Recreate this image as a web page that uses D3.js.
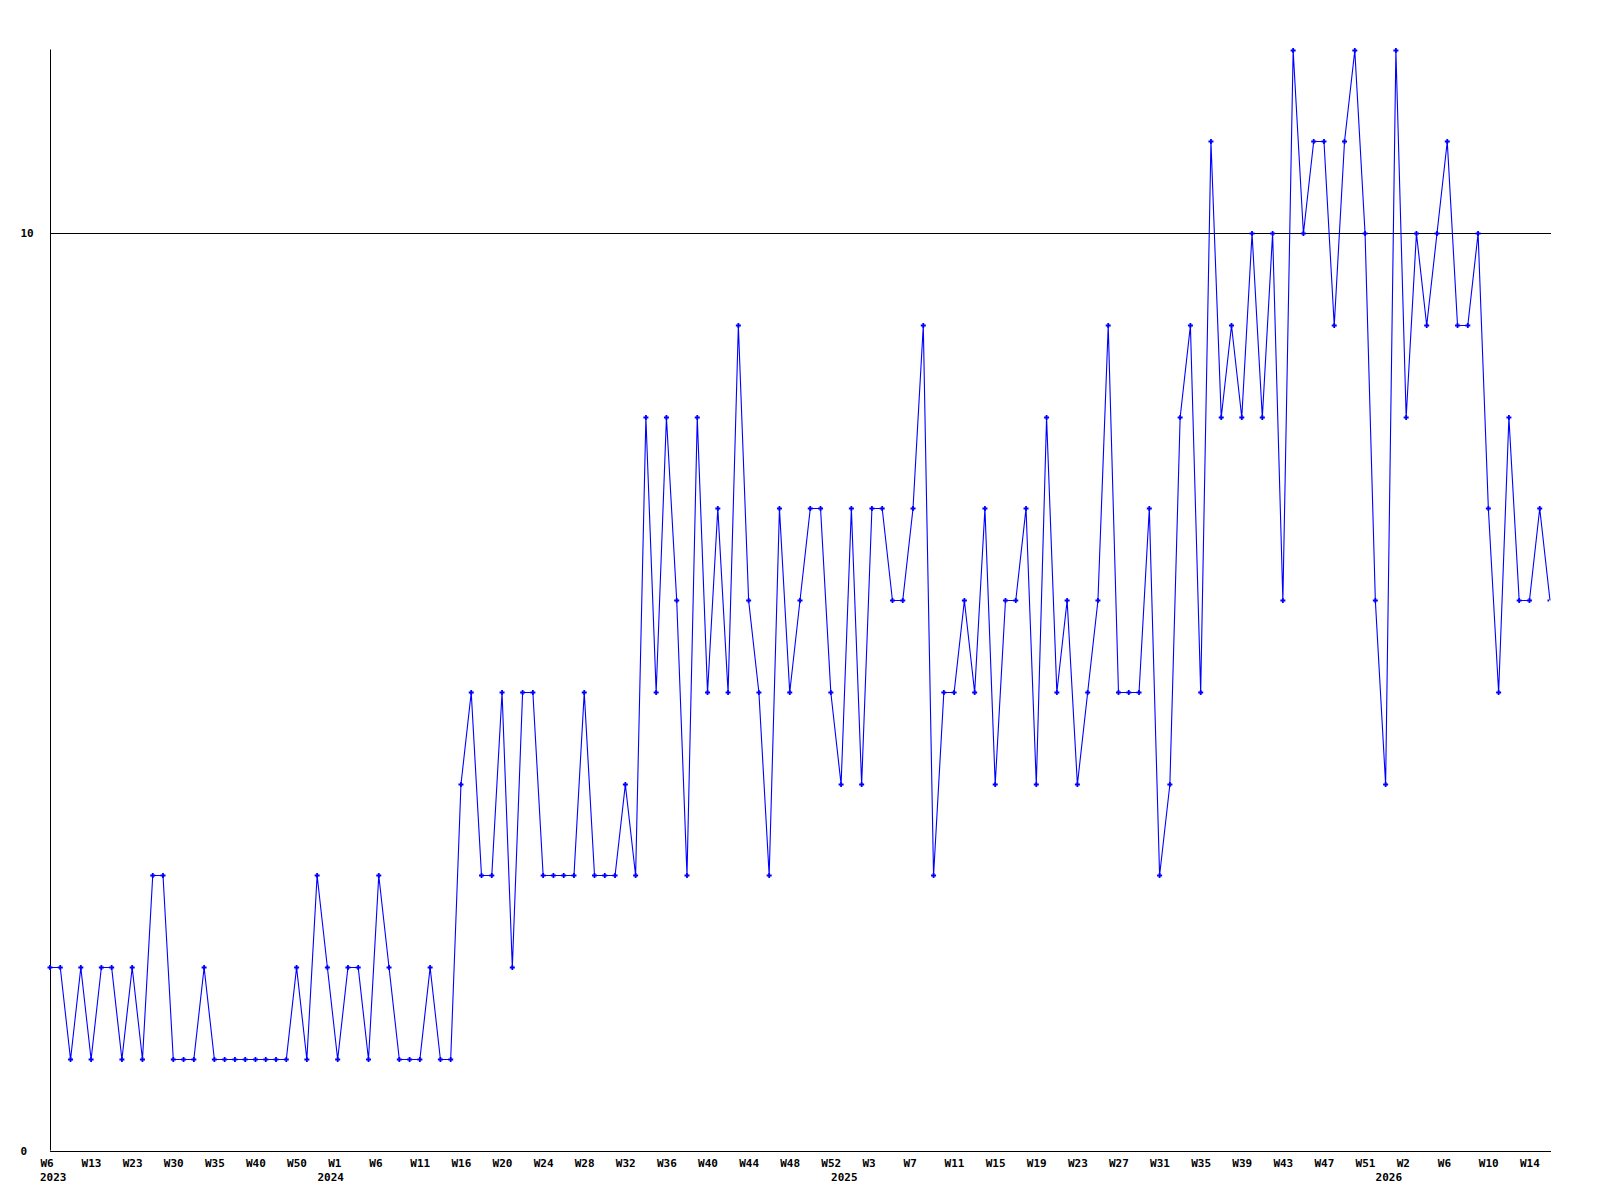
<!DOCTYPE html>
<html>
<head>
<meta charset="utf-8">
<script src="https://cdn.jsdelivr.net/npm/d3@7"></script>
<style>
  html, body { margin: 0; padding: 0; background: #fff; }
  svg text { font-family: "DejaVu Sans Mono", "Liberation Mono", monospace; font-weight: bold; font-size: 11px; fill: #000; }
</style>
</head>
<body>
<div id="chart"></div>
<script>
// weekly counts, one per plotted week
const values = [
  2, 2, 1, 2, 1, 2, 2, 1, 2, 1, 3, 3, 1, 1, 1, 2, 1, 1, 1, 1,
  1, 1, 1, 1, 2, 1, 3, 2, 1, 2, 2, 1, 3, 2, 1, 1, 1, 2, 1, 1,
  4, 5, 3, 3, 5, 2, 5, 5, 3, 3, 3, 3, 5, 3, 3, 3, 4, 3, 8, 5,
  8, 6, 3, 8, 5, 7, 5, 9, 6, 5, 3, 7, 5, 6, 7, 7, 5, 4, 7, 4,
  7, 7, 6, 6, 7, 9, 3, 5, 5, 6, 5, 7, 4, 6, 6, 7, 4, 8, 5, 6,
  4, 5, 6, 9, 5, 5, 5, 7, 3, 4, 8, 9, 5, 11, 8, 9, 8, 10, 8, 10,
  6, 12, 10, 11, 11, 9, 11, 12, 10, 6, 4, 12, 8, 10, 9, 10, 11, 9, 9, 10,
  7, 5, 8, 6, 6, 7, 6
];

// week labels, every 4th point
const weekLabels = [
  "W6", "W13", "W23", "W30", "W35", "W40", "W50",
  "W1", "W6", "W11", "W16", "W20", "W24", "W28", "W32", "W36", "W40", "W44", "W48", "W52",
  "W3", "W7", "W11", "W15", "W19", "W23", "W27", "W31", "W35", "W39", "W43", "W47", "W51",
  "W2", "W6", "W10", "W14"
];
const weekLabelIdx = weekLabels.map((d, i) => i * 4);

// year labels and the point where each year starts
const yearLabels = ["2023", "2024", "2025", "2026"];
const yearLabelIdx = [0, 27, 77, 130];

const yTicks = [0, 10];

const width = 1600, height = 1200;
const margin = {top: 49.5, right: 50, bottom: 49.5, left: 50};

const svg = d3.select("#chart").append("svg")
  .attr("width", width)
  .attr("height", height);

const x = d3.scaleLinear()
  .domain([0, values.length - 1])
  .range([margin.left, width - margin.right]);

const y = d3.scaleLinear()
  .domain([0, 12])
  .range([height - margin.bottom, margin.top]);

svg.append("clipPath")
  .attr("id", "plot")
  .append("rect")
  .attr("x", x(0) - 3)
  .attr("y", 0)
  .attr("width", x(values.length - 1) - x(0) + 2)
  .attr("height", height);

// horizontal line at 10
svg.append("g")
  .selectAll("line")
  .data(yTicks.filter(d => d > 0))
  .enter().append("line")
  .attr("x1", x(0))
  .attr("x2", x(values.length - 1) + 1)
  .attr("y1", d => Math.round(y(d)) + 0.5)
  .attr("y2", d => Math.round(y(d)) + 0.5)
  .attr("stroke", "#000")
  .attr("stroke-width", 1);

// y axis
const yAxis = svg.append("g")
  .attr("transform", `translate(${x(0) + 0.5},0)`)
  .call(d3.axisLeft(y).tickValues(yTicks).tickSize(0).tickPadding(0).tickFormat(d3.format("d")));
yAxis.select(".domain").attr("stroke", "#000").attr("d", `M0,${y(12)}V${y(0)}`);
yAxis.selectAll("text")
  .attr("text-anchor", "start")
  .attr("x", 20 - x(0))
  .attr("dy", "0.32em")
  .style("font", null);

// x axis, week labels
const xAxis = svg.append("g")
  .attr("transform", `translate(0,${Math.round(y(0)) + 0.5})`)
  .call(d3.axisBottom(x).tickValues(weekLabelIdx).tickSize(0).tickPadding(0)
    .tickFormat((d, i) => weekLabels[i]));
xAxis.select(".domain").attr("stroke", "#000").attr("d", `M${x(0)},0H${x(values.length - 1) + 1}`);
xAxis.selectAll("text")
  .attr("text-anchor", "start")
  .attr("x", -10)
  .attr("y", 15.5)
  .attr("dy", null)
  .style("font", null);

// year labels
svg.append("g")
  .selectAll("text")
  .data(yearLabels)
  .enter().append("text")
  .attr("x", (d, i) => x(yearLabelIdx[i]) - 10)
  .attr("y", Math.round(y(0)) + 30)
  .text(d => d);

// the series
const line = d3.line()
  .x((d, i) => x(i))
  .y(d => Math.round(y(d)) + 0.5);

svg.append("path")
  .datum(values)
  .attr("fill", "none")
  .attr("stroke", "#0000ff")
  .attr("stroke-width", 1.1)
  .attr("d", line);

// small cross markers
svg.append("g")
  .attr("clip-path", "url(#plot)")
  .selectAll("path")
  .data(values)
  .enter().append("path")
  .attr("transform", (d, i) => `translate(${x(i)},${Math.round(y(d)) + 0.5})`)
  .attr("d", "M-2.5,0H2.5M0,-2.5V2.5")
  .attr("stroke", "#0000ff")
  .attr("stroke-width", 1.8)
  .attr("fill", "none");
</script>
</body>
</html>
